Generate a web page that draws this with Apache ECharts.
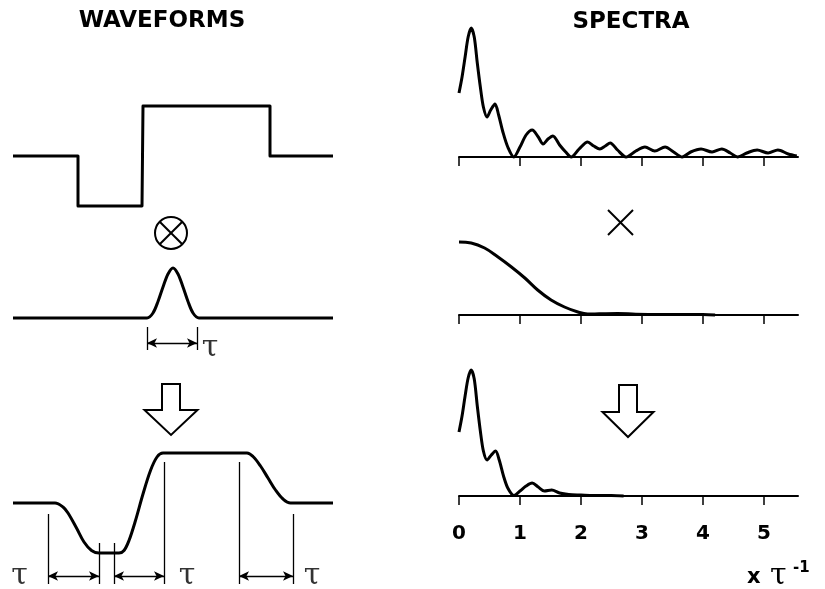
<!DOCTYPE html>
<html><head><meta charset="utf-8">
<script src="https://cdn.jsdelivr.net/npm/echarts@6/dist/echarts.min.js"></script>
<style>html,body{margin:0;padding:0;background:#fff}#c{width:825px;height:589px}</style>
</head><body><div id="c"></div>
<script>
// ---------------- data ----------------
const panelTitles = ['WAVEFORMS', 'SPECTRA'];
const freqTicks = [0, 1, 2, 3, 4, 5];
const tauText = 'τ';

// waveforms: [time in units of τ, normalised amplitude]
const stepWave = [[0,0],[1.3,0],[1.3,-1],[2.58,-1],[2.6,1],[5.14,1],[5.14,0],[6.4,0]];
const gaussPulse = [[0,0],[2.68,0],[2.8,0.1],[2.9,0.33],[3.0,0.62],[3.1,0.88],[3.2,1.0],[3.3,0.88],[3.4,0.62],[3.5,0.33],[3.6,0.1],[3.72,0],[6.4,0]];
const smoothedWave = [[0,0],[0.84,0],[1.0,-0.08],[1.1,-0.2],[1.27,-0.5],[1.42,-0.78],[1.57,-0.95],[1.72,-1],[2.12,-1],[2.22,-0.95],[2.32,-0.75],[2.45,-0.35],[2.6,0.18],[2.75,0.65],[2.88,0.92],[3.0,1.0],[4.68,1],[4.8,0.93],[4.95,0.74],[5.1,0.5],[5.25,0.26],[5.4,0.08],[5.55,0],[6.4,0]];

// spectra: [frequency in units of 1/τ, amplitude]
const stepSpectrum = [[0,0.64],[0.05,0.8],[0.1,1.0],[0.15,1.2],[0.2,1.29],[0.25,1.2],[0.3,0.94],[0.35,0.7],[0.4,0.5],[0.46,0.4],[0.52,0.47],[0.59,0.53],[0.65,0.42],[0.72,0.25],[0.8,0.1],[0.9,0],
  [1.0,0.1],[1.1,0.22],[1.2,0.27],[1.3,0.2],[1.38,0.13],[1.46,0.18],[1.54,0.21],[1.65,0.12],[1.75,0.05],[1.84,0],
  [1.97,0.08],[2.11,0.15],[2.21,0.11],[2.31,0.08],[2.4,0.11],[2.48,0.14],[2.6,0.07],[2.74,0],
  [2.9,0.06],[3.05,0.1],[3.21,0.06],[3.38,0.1],[3.52,0.05],[3.66,0],
  [3.8,0.05],[3.97,0.08],[4.15,0.05],[4.31,0.08],[4.45,0.04],[4.57,0],
  [4.72,0.04],[4.89,0.07],[5.07,0.04],[5.23,0.07],[5.4,0.03],[5.54,0.01]];
const gaussSpectrum = [[0,0.73],[0.2,0.72],[0.42,0.67],[0.64,0.58],[0.86,0.48],[1.08,0.37],[1.29,0.25],[1.51,0.15],[1.73,0.08],[1.95,0.03],[2.11,0.01],[2.3,0.012],[2.6,0.015],[2.9,0.008],[3.3,0.005],[4.0,0.006],[4.2,0]];
const productSpectrum = [[0,0.64],[0.05,0.8],[0.1,1.0],[0.15,1.18],[0.2,1.26],[0.25,1.17],[0.3,0.9],[0.35,0.65],[0.4,0.45],[0.46,0.36],[0.53,0.41],[0.6,0.45],[0.66,0.36],[0.73,0.2],[0.8,0.08],[0.9,0.005],
  [1.0,0.05],[1.1,0.1],[1.2,0.13],[1.3,0.09],[1.4,0.05],[1.52,0.06],[1.65,0.03],[1.8,0.015],[2.0,0.01],[2.2,0.005],[2.5,0.005],[2.7,0]];

// τ-width annotations (time units)
const pulseBracket = {x0: 2.68, x1: 3.68, yTop: -0.18, yBot: -0.64, yArrow: -0.5, label: [3.94, -0.6]};
const edgeGuides = [[0.7,-0.22],[1.72,-0.8],[2.02,-0.8],[3.02,0.82],[4.52,0.82],[5.6,-0.22]];
const guideBottom = -1.62;
const edgeArrows = [[0.7,1.72],[2.02,3.02],[4.52,5.6]];
const arrowY = -1.46;
const edgeTauLabels = [[0.13,-1.46],[3.48,-1.46],[5.98,-1.46]];

// ---------------- chart ----------------
const chart = echarts.init(document.getElementById('c'), null, {renderer: 'canvas'});
const BLACK = '#000';

const leftGrids = [
  {left: 13, width: 320, top: 96, height: 120},
  {left: 13, width: 320, top: 258, height: 100},
  {left: 13, width: 320, top: 443, height: 145}
];
const leftY = [[-1.2,1.2],[-0.8,1.2],[-1.7,1.2]];
const rightGrids = [
  {left: 459, width: 339, top: 27, height: 130},
  {left: 459, width: 339, top: 185, height: 130},
  {left: 459, width: 339, top: 366, height: 130}
];

const grid = leftGrids.concat(rightGrids);
const xAxis = [], yAxis = [];
leftGrids.forEach((g, i) => {
  xAxis.push({gridIndex: i, type: 'value', min: 0, max: 6.4, show: false});
  yAxis.push({gridIndex: i, type: 'value', min: leftY[i][0], max: leftY[i][1], show: false});
});
rightGrids.forEach((g, j) => {
  const i = j + 3;
  xAxis.push({
    gridIndex: i, type: 'value', min: 0, max: 5.56,
    axisLine: {show: true, onZero: false, lineStyle: {color: BLACK, width: 2}},
    axisTick: {show: true, length: 9, lineStyle: {color: BLACK, width: 1.5}, customValues: freqTicks},
    axisLabel: {show: j === 2, customValues: freqTicks, margin: 28, color: BLACK,
      fontSize: 20, fontWeight: 'bold', fontFamily: 'DejaVu Sans'},
    splitLine: {show: false}
  });
  yAxis.push({gridIndex: i, type: 'value', min: 0, max: 1.3, show: false});
});

function lineSeries(idx, data, smooth) {
  return {type: 'line', xAxisIndex: idx, yAxisIndex: idx, data: data, smooth: smooth,
    symbol: 'none', clip: false, silent: true,
    lineStyle: {color: BLACK, width: 3, join: 'round'}};
}

const markLineData = [];
edgeGuides.forEach(g => {
  markLineData.push([{coord: [g[0], g[1]], symbol: 'none'}, {coord: [g[0], guideBottom], symbol: 'none'}]);
});
edgeArrows.forEach(a => {
  markLineData.push([{coord: [a[0], arrowY], symbol: 'arrow'}, {coord: [a[1], arrowY], symbol: 'arrow'}]);
});

const pulseMarks = [
  [{coord: [pulseBracket.x0, pulseBracket.yTop], symbol: 'none'}, {coord: [pulseBracket.x0, pulseBracket.yBot], symbol: 'none'}],
  [{coord: [pulseBracket.x1, pulseBracket.yTop], symbol: 'none'}, {coord: [pulseBracket.x1, pulseBracket.yBot], symbol: 'none'}],
  [{coord: [pulseBracket.x0, pulseBracket.yArrow], symbol: 'arrow'}, {coord: [pulseBracket.x1, pulseBracket.yArrow], symbol: 'arrow'}]
];

const tauLabelStyle = {show: true, position: 'inside', formatter: tauText, color: BLACK,
  fontSize: 30, fontFamily: 'DejaVu Serif'};

const series = [
  lineSeries(0, stepWave, false),
  Object.assign(lineSeries(1, gaussPulse, 0.3), {
    markLine: {silent: true, symbolSize: [7, 10], label: {show: false},
      lineStyle: {color: BLACK, width: 1.3, type: 'solid'}, data: pulseMarks}
  }),
  Object.assign(lineSeries(2, smoothedWave, 0.35), {
    markLine: {silent: true, symbolSize: [7, 10], label: {show: false},
      lineStyle: {color: BLACK, width: 1.3, type: 'solid'}, data: markLineData}
  }),
  {type: 'scatter', xAxisIndex: 1, yAxisIndex: 1, data: [pulseBracket.label], symbolSize: 1,
    itemStyle: {color: 'transparent'}, label: tauLabelStyle, clip: false, silent: true},
  {type: 'scatter', xAxisIndex: 2, yAxisIndex: 2, data: edgeTauLabels, symbolSize: 1,
    itemStyle: {color: 'transparent'}, label: tauLabelStyle, clip: false, silent: true},
  lineSeries(3, stepSpectrum, 0.3),
  lineSeries(4, gaussSpectrum, 0.4),
  lineSeries(5, productSpectrum, 0.3)
];

function hollowArrow(cx, top, stemW, stemH, headW, headH) {
  const s = stemW / 2, h = headW / 2;
  return {type: 'polygon', shape: {points: [
    [cx - s, top], [cx + s, top], [cx + s, top + stemH], [cx + h, top + stemH],
    [cx, top + stemH + headH], [cx - h, top + stemH], [cx - s, top + stemH]]},
    style: {fill: '#fff', stroke: BLACK, lineWidth: 2, lineJoin: 'miter'}};
}

const graphic = [
  {type: 'text', x: 162, y: 21, style: {text: panelTitles[0], fill: BLACK, font: 'bold 23px "DejaVu Sans"', align: 'center', verticalAlign: 'middle'}},
  {type: 'text', x: 631, y: 22, style: {text: panelTitles[1], fill: BLACK, font: 'bold 23px "DejaVu Sans"', align: 'center', verticalAlign: 'middle'}},
  // convolution symbol
  {type: 'circle', shape: {cx: 171, cy: 233, r: 16}, style: {fill: 'none', stroke: BLACK, lineWidth: 2}},
  {type: 'line', shape: {x1: 159.7, y1: 221.7, x2: 182.3, y2: 244.3}, style: {stroke: BLACK, lineWidth: 2}},
  {type: 'line', shape: {x1: 159.7, y1: 244.3, x2: 182.3, y2: 221.7}, style: {stroke: BLACK, lineWidth: 2}},
  // multiplication symbol
  {type: 'line', shape: {x1: 608, y1: 210, x2: 633, y2: 235}, style: {stroke: BLACK, lineWidth: 2}},
  {type: 'line', shape: {x1: 608, y1: 235, x2: 633, y2: 210}, style: {stroke: BLACK, lineWidth: 2}},
  hollowArrow(171, 384, 18, 26, 53, 25),
  hollowArrow(628, 385, 18, 27, 51, 25),
  // unit label
  {type: 'text', x: 747, y: 578, style: {text: 'x', fill: BLACK, font: 'bold 21px "DejaVu Sans"', align: 'left', verticalAlign: 'middle'}},
  {type: 'text', x: 770, y: 576, style: {text: tauText, fill: BLACK, font: '30px "DejaVu Serif"', align: 'left', verticalAlign: 'middle'}},
  {type: 'text', x: 793, y: 568, style: {text: '-1', fill: BLACK, font: 'bold 15px "DejaVu Sans"', align: 'left', verticalAlign: 'middle'}}
];

chart.setOption({animation: false, backgroundColor: '#fff', grid, xAxis, yAxis, series, graphic});
</script></body></html>
